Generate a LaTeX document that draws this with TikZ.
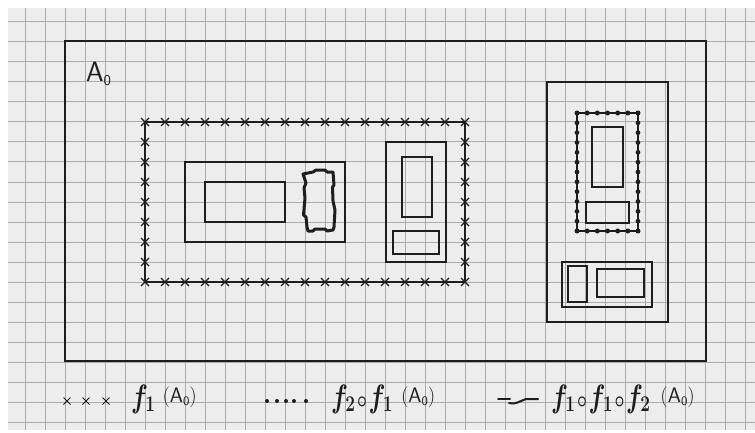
\documentclass[tikz,border=0pt]{standalone}
\usepackage{graphicx}
\definecolor{paper}{RGB}{237,237,237}
\definecolor{gridc}{RGB}{172,172,172}
\definecolor{ink}{RGB}{30,30,30}
\newcommand\lgfont{\fontsize{24}{24}\selectfont}
\newcommand\argfont{\fontsize{21}{21}\selectfont}
\newcommand\ffn[1]{\scalebox{1}[1.3]{\boldmath$#1$}}
\newcommand\cmp{\mkern1mu\mathord{\scriptstyle\circ}\mkern1mu}
\newcommand\argA{\raisebox{5pt}{\argfont(\textsf{A}\raisebox{-3pt}{\fontsize{13}{13}\selectfont\textsf{0}})}}
\begin{document}
\begin{tikzpicture}[x=1pt,y=-1pt,
  outer/.style={draw=ink,line width=2.6pt},
  box/.style={draw=ink,line width=1.7pt},
  thinbox/.style={draw=ink,line width=1.1pt},
  legend/.style={anchor=base west,inner sep=0pt,text=ink,font=\lgfont},
  xm/.pic={\draw[ink,line width=1.1pt] (-4,-4)--(4,4) (-4,4)--(4,-4);},
  xs/.pic={\draw[ink,line width=0.9pt] (-3.5,-3.5)--(3.5,3.5) (-3.5,3.5)--(3.5,-3.5);}]
\useasboundingbox (0,0) rectangle (755,433);
\fill[white] (0,0) rectangle (755,433);
\fill[paper] (8,8) rectangle (755,430);
\foreach \x in {25,45,...,745} \draw[gridc,line width=1pt] (\x,8) -- (\x,430);
\foreach \y in {22,42,...,422} \draw[gridc,line width=1pt] (8,\y) -- (755,\y);
% outer set A0
\draw[outer] (65,41) rectangle (706,361);
\node[anchor=base west,inner sep=0pt,text=ink,font=\sffamily\fontsize{28}{28}\selectfont] (A0) at (86,82) {A\raisebox{-4pt}{\fontsize{15}{15}\selectfont 0}};
% f1(A0) : crosses
\draw[ink,line width=1.6pt] (145,122) rectangle (465,282);
\foreach \x in {145,165,...,465} {\pic at (\x,122) {xm}; \pic at (\x,282) {xm};}
\foreach \y in {142,162,...,262} {\pic at (145,\y) {xm}; \pic at (465,\y) {xm};}
% left inner
\draw[box] (185,162) rectangle (345,242);
\draw[thinbox] (205,182) rectangle (285,222);
\draw[ink,line width=3pt,line join=round]
  (303,174) -- (313,172) -- (316,170) -- (325,170) -- (327,172) -- (333,172)
  -- (334,185) -- (332.5,187) -- (333,201) -- (335,210) -- (334,227) -- (333,230)
  -- (327,231) -- (325,229) -- (315,229) -- (313,231) -- (308,231) -- (307,227)
  -- (306,217) -- (303.5,215) -- (305,198) -- (304,188) -- (306,183) -- cycle;
% middle right box
\draw[box] (386,142) rectangle (446,262);
\draw[thinbox] (402,157) rectangle (432,217);
\draw[thinbox] (393,231) rectangle (439,254);
% right big box
\draw[box] (547,82) rectangle (668,322);
\draw[ink,line width=1.4pt] (577,113) rectangle (638,231);
\foreach \i in {0,...,6} {\fill[ink] ({577+\i*61/6},113) circle (2.5pt); \fill[ink] ({577+\i*61/6},231) circle (2.5pt);}
\foreach \i in {1,...,11} {\fill[ink] (577,{113+\i*118/12}) circle (2.4pt); \fill[ink] (638,{113+\i*118/12}) circle (2.4pt);}
\draw[thinbox] (592,127) rectangle (623,187);
\draw[thinbox] (586,202) rectangle (629,223);
\draw[ink,line width=1.5pt] (562,262) rectangle (652,307);
\draw[thinbox] (568,266) rectangle (587,302);
\draw[thinbox] (597,269) rectangle (644,297);
% legend
\foreach \x in {67,86,106} \pic at (\x,401) {xs};
\node[legend] (l1) at (131,407) {\ffn{f_{1}}\hspace{7pt}\argA};
\foreach \x in {267,277,286,294,306} \fill[ink] (\x,401) circle (2pt);
\node[legend] (l2) at (331,407) {\ffn{f_{2}\cmp f_{1}}\hspace{8pt}\argA};
\draw[ink,line width=2pt,line cap=round] (498,399) -- (510,399);
\draw[ink,line width=2pt,line cap=round] (509,403) .. controls (515,405) and (520,401) .. (526,399) -- (538,399);
\node[legend] (l3) at (551,407) {\ffn{f_{1}\cmp f_{1}\cmp f_{2}}\hspace{10pt}\argA};
\end{tikzpicture}
\end{document}
